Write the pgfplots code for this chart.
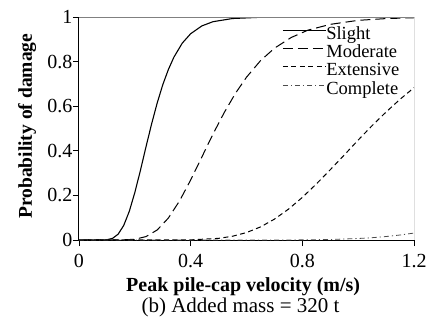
\documentclass[border=0pt]{standalone}
\usepackage{pgfplots}
\pgfplotsset{compat=1.18}
\usepackage{fontspec}
\setmainfont{Liberation Serif}

% Fragility curves: probability of damage vs. peak pile-cap velocity
\pgfplotstableread{
x     p
0.00  0.0000
0.08  0.0000
0.10  0.0012
0.12  0.0073
0.14  0.0258
0.16  0.0648
0.18  0.1280
0.20  0.2130
0.22  0.3120
0.24  0.4180
0.26  0.5200
0.28  0.6140
0.30  0.6960
0.32  0.7640
0.34  0.8200
0.37  0.8830
0.40  0.9250
0.44  0.9600
0.48  0.9790
0.55  0.9932
0.65  0.9987
0.80  0.9999
1.00  1.0000
1.20  1.0000
}\slight

\pgfplotstableread{
x     p
0.00  0.0000
0.15  0.0002
0.20  0.0033
0.24  0.0153
0.28  0.0449
0.32  0.0983
0.36  0.1750
0.40  0.2690
0.44  0.3720
0.48  0.4750
0.52  0.5710
0.56  0.6570
0.60  0.7300
0.65  0.8040
0.70  0.8600
0.76  0.9080
0.82  0.9410
0.90  0.9670
1.00  0.9850
1.10  0.9929
1.20  0.9967
}\moderate

\pgfplotstableread{
x     p
0.00  0.0000
0.40  0.0007
0.50  0.0073
0.55  0.0169
0.60  0.0334
0.65  0.0586
0.70  0.0935
0.75  0.1380
0.80  0.1910
0.85  0.2510
0.90  0.3150
0.95  0.3810
1.00  0.4480
1.05  0.5130
1.10  0.5740
1.15  0.6310
1.20  0.6830
}\extensive

\pgfplotstableread{
x     p
0.00  0.0000
0.70  0.0001
0.80  0.0006
0.90  0.0024
1.00  0.0067
1.05  0.0104
1.10  0.0156
1.15  0.0224
1.20  0.0311
}\complete

\begin{document}
\begin{tikzpicture}
\begin{axis}[
  name=ax,
  scale only axis,
  width=335pt, height=223pt,
  xmin=0, xmax=1.2, ymin=0, ymax=1,
  axis x line*=bottom, axis y line*=left,
  axis line style={line width=1pt, black},
  hide obscured x ticks=false,
  hide obscured y ticks=false,
  xtick={0,0.4,0.8,1.2},
  ytick={0,0.2,0.4,0.6,0.8,1},
  tick align=outside,
  major tick length=6pt,
  tick style={black, line width=0.9pt},
  /pgf/number format/assume math mode=true,
  ticklabel style={font=\fontsize{20}{22}\selectfont},
  xticklabel style={yshift=-5pt},
  yticklabel style={xshift=3pt},
  xlabel={\textbf{Peak pile-cap velocity (m/s)}},
  xlabel style={font=\fontsize{20}{22}\selectfont, at={(axis description cs:0.49,0)}, anchor=north, inner sep=0pt, yshift=-37pt},
  ylabel={\textbf{Probability of damage}},
  ylabel style={font=\fontsize{19.5}{21}\selectfont, at={(axis description cs:-0.155,0.51)}, anchor=center, inner sep=0pt},
  legend style={draw=none, fill=none, at={(0.606,0.96)}, anchor=north west, inner sep=0pt,
    font=\fontsize{18.5}{20}\selectfont,
    nodes={inner sep=0pt, text height=13pt, text depth=5.3pt},
    /tikz/column 2/.style={column sep=6pt}},
  legend cell align=left,
  legend image code/.code={\draw[#1] (0pt,5pt) -- (43pt,5pt);},
]
\addplot[black, line width=1.1pt] table[x=x, y=p] {\slight};
\addlegendentry{Slight}
\addplot[black, line width=1.0pt, dash pattern=on 10pt off 5pt] table[x=x, y=p] {\moderate};
\addlegendentry{Moderate}
\addplot[black, line width=1.0pt, dash pattern=on 5pt off 3.5pt] table[x=x, y=p] {\extensive};
\addlegendentry{Extensive}
\addplot[black!70, line width=0.8pt, dash pattern=on 5pt off 3pt on 1.2pt off 3pt] table[x=x, y=p] {\complete};
\addlegendentry{Complete}
% top and right frame lines
\draw[gray, line width=1pt] (rel axis cs:0,1) -- (rel axis cs:1,1);
\draw[black, line width=1pt] (rel axis cs:1,0) -- (rel axis cs:1,1);
\end{axis}
\node[anchor=north, inner sep=0pt, font=\fontsize{21}{23}\selectfont]
  at ([xshift=-6pt, yshift=-58pt]ax.south) {(b) Added mass = 320 t};
\pgfresetboundingbox
\path ([shift={(-79pt,-85pt)}]ax.south west) rectangle ([shift={(17pt,17pt)}]ax.north east);
\end{tikzpicture}
\end{document}
